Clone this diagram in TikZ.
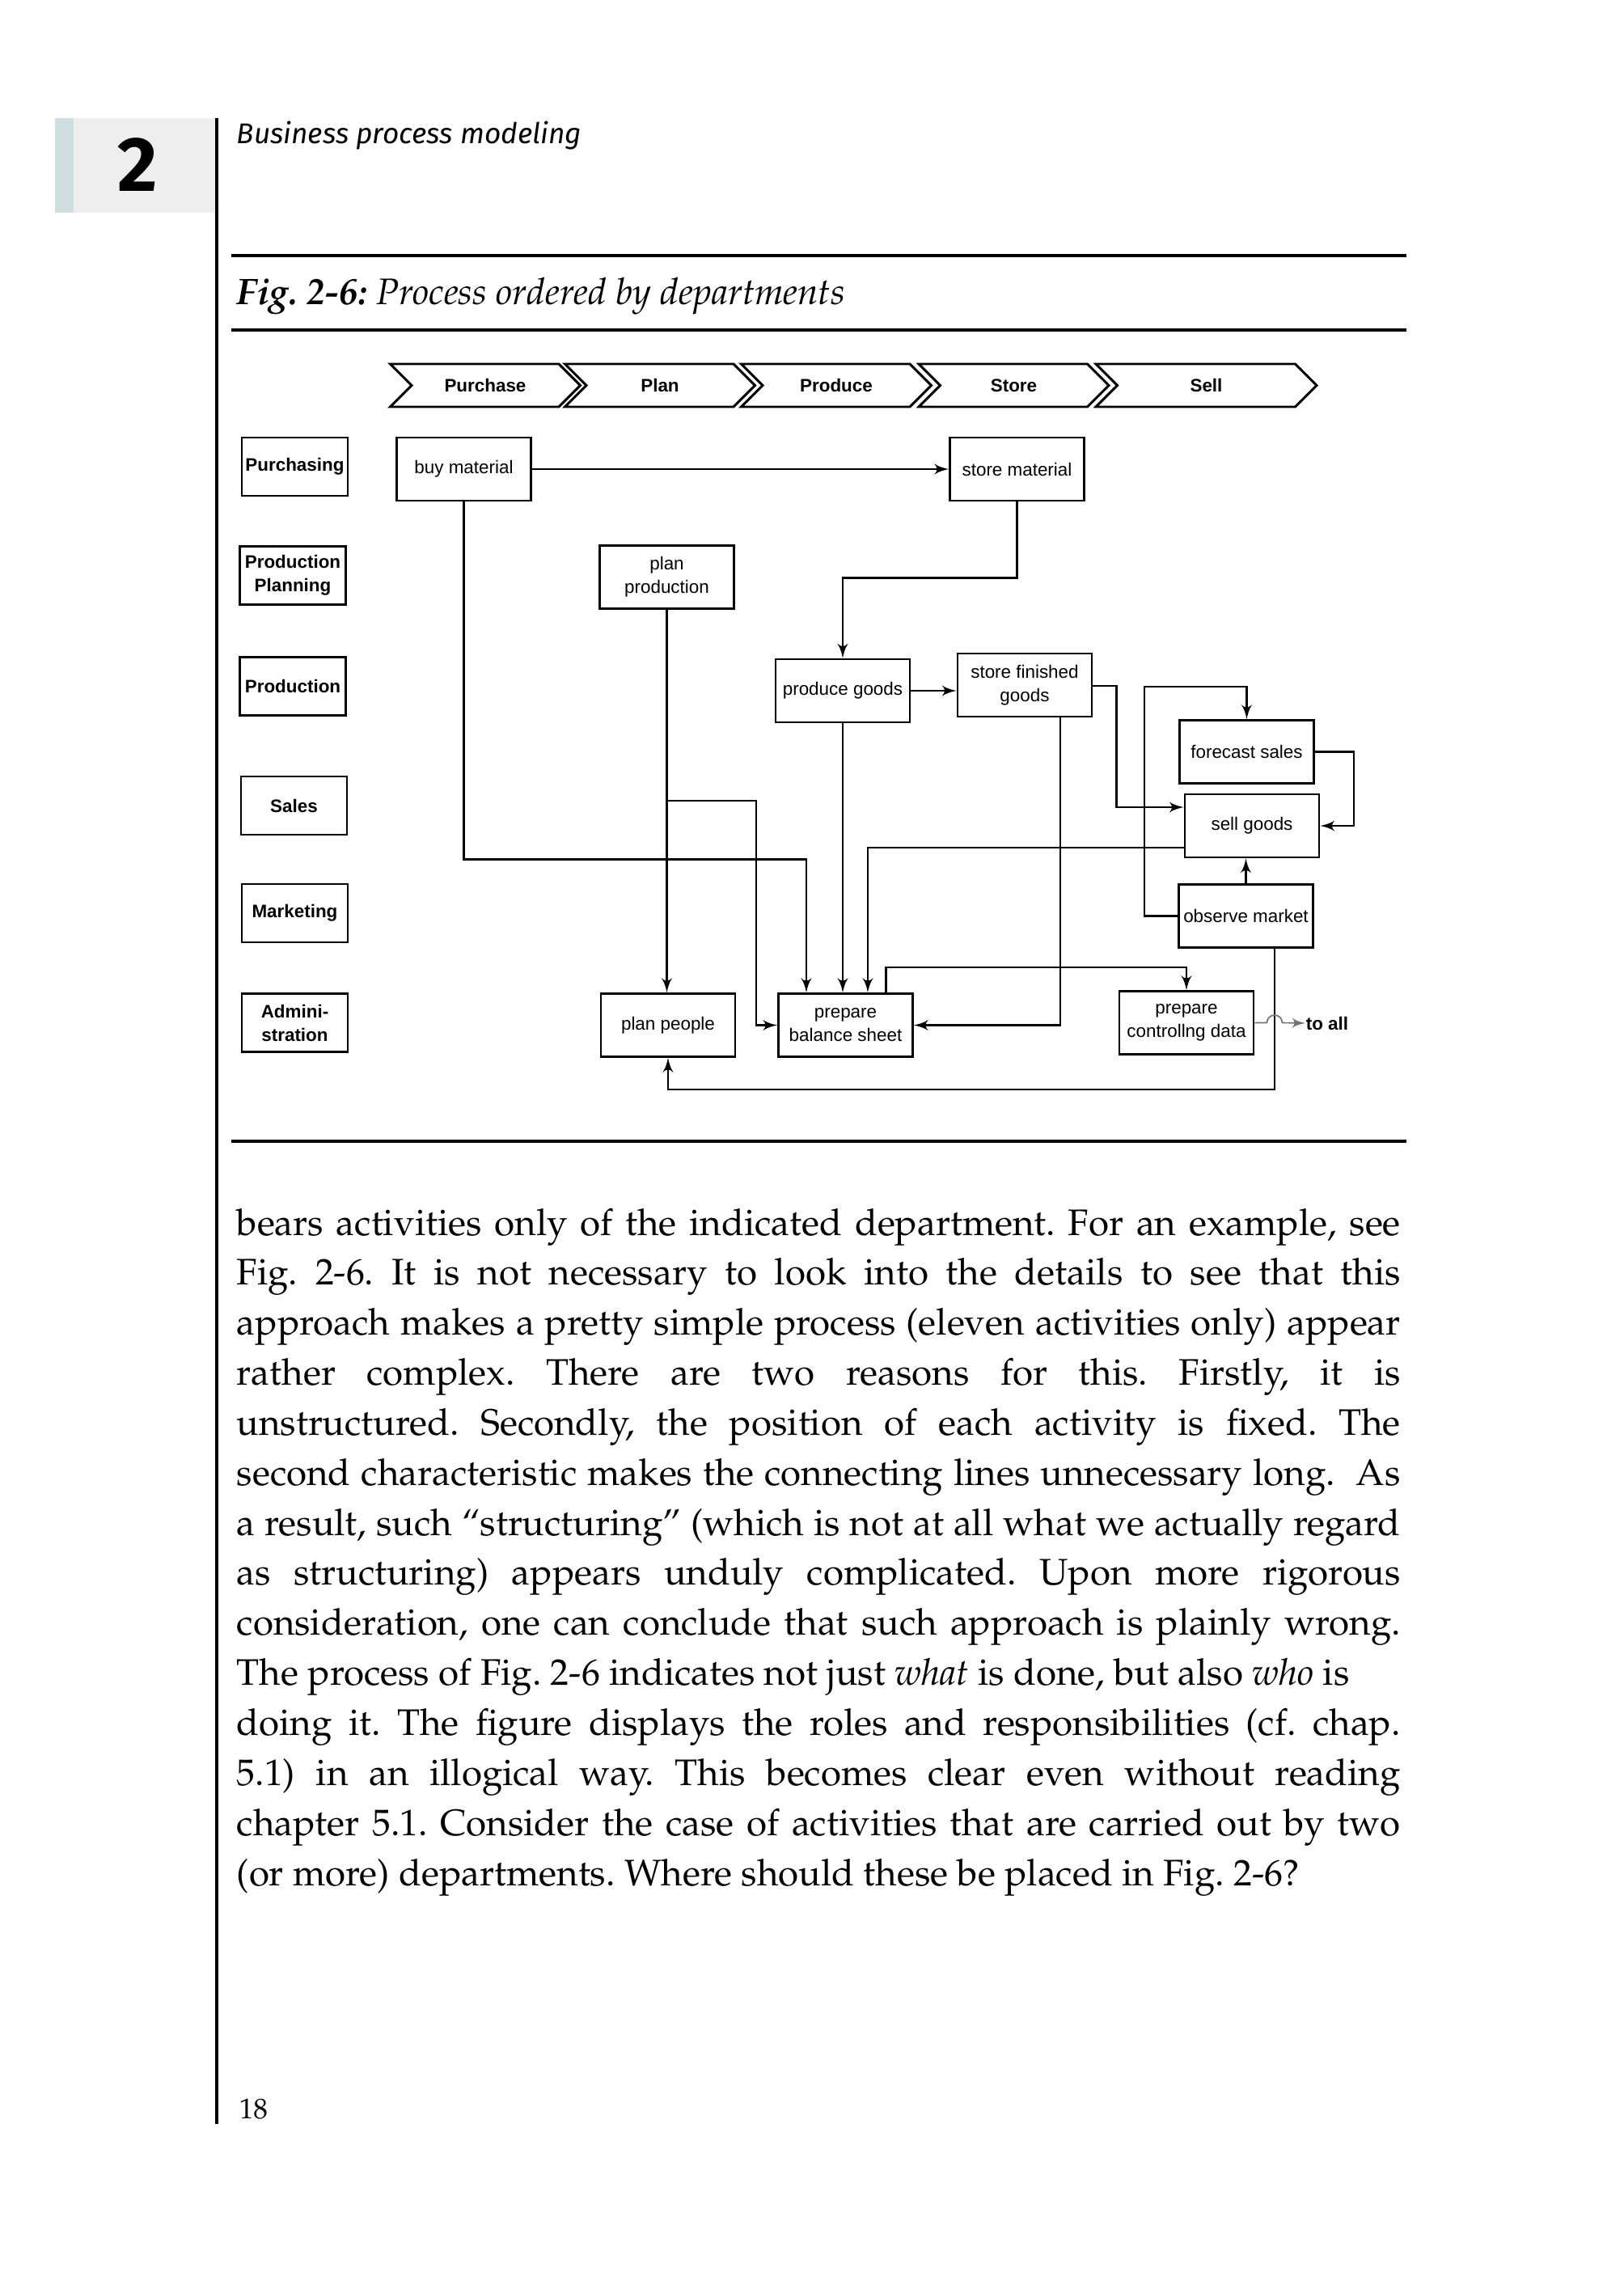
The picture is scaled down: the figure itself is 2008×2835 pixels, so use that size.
\documentclass[tikz,border=0pt]{standalone}
\usepackage[T1]{fontenc}
\usepackage{fontspec}
\setsansfont{Liberation Sans}
\newfontfamily\headfont{Fira Sans}
\usepackage{tikz}
\usetikzlibrary{arrows,shapes}
\newdimen\px \px=0.084667mm
\newcommand\pal{\fontencoding{T1}\fontfamily{ppl}\selectfont\frenchspacing}
\newcommand\dfont{\sffamily\fontsize{5.4}{7}\selectfont}
\definecolor{tabcyan}{HTML}{CFDFE0}
\definecolor{tabgray}{HTML}{EEEEEE}
\tikzstyle{activity}=[draw,line width=0.7pt,minimum width=166\px,minimum height=78\px,inner sep=1pt,align=center,font=\dfont]
\tikzstyle{dept}=[draw,line width=0.7pt,minimum width=131\px,minimum height=72\px,inner sep=0.5pt,align=center,font=\dfont\bfseries]
\tikzstyle{phase}=[signal,signal from=west,signal to=east,draw,line width=0.7pt,minimum width=235\px,minimum height=53\px,inner sep=0pt,font=\dfont\bfseries]
\tikzstyle{edge} = [draw,line width=0.5pt,->,>=latex']
\tikzstyle{rule} = [draw,line width=0.8pt]

\begin{document}
\begin{tikzpicture}[x=0.084667mm,y=-0.084667mm]
      \useasboundingbox (0,0) rectangle (2008,2835);
      % page head
      \fill[tabcyan] (68,146) rectangle (91,263);
      \fill[tabgray] (91,146) rectangle (267,263);
      \node[font=\headfont\bfseries\fontsize{23}{23}\selectfont] (chapnum) at (170,204) {2};
      \draw[line width=0.85pt] (268,146) -- (268,2626);
      \node[anchor=base west,inner sep=0pt,font=\headfont\itshape\fontsize{8.5}{10}\selectfont] (runhead) at (292,177) {Business process modeling};
      \draw[rule] (286,316) -- (1739,316);
      \node[anchor=base west,inner sep=0pt,font=\pal\itshape\fontsize{11}{13}\selectfont] (caption) at (292,376) {\textbf{Fig. 2-6:} Process ordered by departments};
      \draw[rule] (286,408) -- (1739,408);
      % phases
      \node[phase] (purchase) at (600,476.5) {Purchase};
      \node[phase] (plan) at (816,476.5) {Plan};
      \node[phase] (prod) at (1034,476.5) {Produce};
      \node[phase] (store) at (1253.5,476.5) {Store};
      \node[phase,minimum width=273\px] (sell) at (1491.5,476.5) {Sell};
      % departments
      \node[dept] (purchasing) at (364.5,577) {Purchasing};
      \node[dept] (planning) at (362,711.5) {Production\\Planning};
      \node[dept] (production) at (362,848.5) {Production};
      \node[dept] (sales) at (363.5,996) {Sales};
      \node[dept] (marketing) at (364.5,1129) {Marketing};
      \node[dept] (admin) at (364.5,1264.5) {Admini-\\stration};
      % activities
      \node[activity] (buy) at (573.5,580) {buy material};
      \node[activity] (storemat) at (1257.5,580) {store material};
      \node[activity] (planprod) at (824.5,713.5) {plan\\production};
      \node[activity] (produce) at (1042,854) {produce goods};
      \node[activity] (storefin) at (1267,847) {store finished\\goods};
      \node[activity] (forecast) at (1541.5,929.5) {forecast sales};
      \node[activity] (sellgoods) at (1548,1021) {sell goods};
      \node[activity] (observe) at (1540.5,1132.5) {observe market};
      \node[activity] (planppl) at (826,1267.5) {plan people};
      \node[activity] (balance) at (1045.5,1267.5) {prepare\\balance sheet};
      \node[activity] (controlling) at (1467,1264.5) {prepare\\controllng data};
      \node[anchor=west,inner sep=0pt,font=\dfont\bfseries] (toall) at (1614,1265) {to all};
      % connections
      \draw[edge] (buy) -- (storemat);
      \draw[edge] (storemat.south) -- ++(0,94) -| (produce.north);
      \draw[edge] (produce.east) -- (produce.east -| storefin.west);
      \draw[edge] ([yshift=-1\px]storefin.east) -- ++(29,0) |- ([yshift=23\px]sellgoods.west);
      \draw[edge] (forecast.east) -- ++(48,0) |- (sellgoods.east);
      \draw[edge] (observe.west) -- ++(-41,0) |- (forecast.north |- 0,849) -- (forecast.north);
      \draw[edge] (observe.north) -- (observe.north |- sellgoods.south);
      \draw[edge] ([yshift=-27\px]sellgoods.west) -| ([xshift=27.5\px]balance.north);
      \draw[edge] (buy.south) -- ++(0,442) -| ([xshift=-48.5\px]balance.north);
      \draw[edge] (produce.south) -- (produce.south |- balance.north);
      \draw[edge] ([xshift=44\px]storefin.south) |- (balance.east);
      \draw[edge] (planprod.south) -- (planprod.south |- planppl.north);
      \draw[edge] (planprod.south |- 0,990) -- ++(110.5,0) |- (balance.west);
      \draw[edge] ([xshift=35.5\px]observe.south) |- (planppl.south |- 0,1347) -- (planppl.south);
      \draw[edge] ([xshift=50\px]balance.north) -- ++(0,-31) -| (controlling.north);
      \draw[edge,draw=black!55,line width=0.4pt] (controlling.east) -- ++(15,0) arc[start angle=180,end angle=0,radius=9.5\px] -- (toall.west);
      \draw[rule] (286,1411) -- (1739,1411);
      % text
      \node[anchor=base west,inner sep=0pt] (body) at (292,1527) {\parbox[t]{1439\px}{\pal\fontsize{11}{14.9}\selectfont
        \tolerance=9999 \hfuzz=20pt \parindent=0pt
        bears activities only of the indicated department. For an example, see\linebreak
        Fig.~2-6. It is not necessary to look into the details to see that this\linebreak
        approach makes a pretty simple process (eleven activities only) appear\linebreak
        rather complex. There are two reasons for this. Firstly, it is\linebreak
        unstructured. Secondly, the position of each activity is fixed. The\linebreak
        second characteristic makes the connecting lines unnecessary long.\ \ As\linebreak
        a result, such ``structuring'' (which is not at all what we actually regard\linebreak
        as structuring) appears unduly complicated. Upon more rigorous\linebreak
        consideration, one can conclude that such approach is plainly wrong.\linebreak
        The process of Fig. 2-6 indicates not just \textit{what} is done, but also \textit{who} is\newline
        doing it. The figure displays the roles and responsibilities (cf. chap.\linebreak
        5.1) in an illogical way. This becomes clear even without reading\linebreak
        chapter 5.1. Consider the case of activities that are carried out by two\linebreak
        (or more) departments. Where should these be placed in Fig. 2-6?}};
      \node[anchor=base west,inner sep=0pt,font=\pal\fontsize{8.5}{10}\selectfont] (pagenum) at (295,2619) {18};
    \end{tikzpicture}
\end{document}
